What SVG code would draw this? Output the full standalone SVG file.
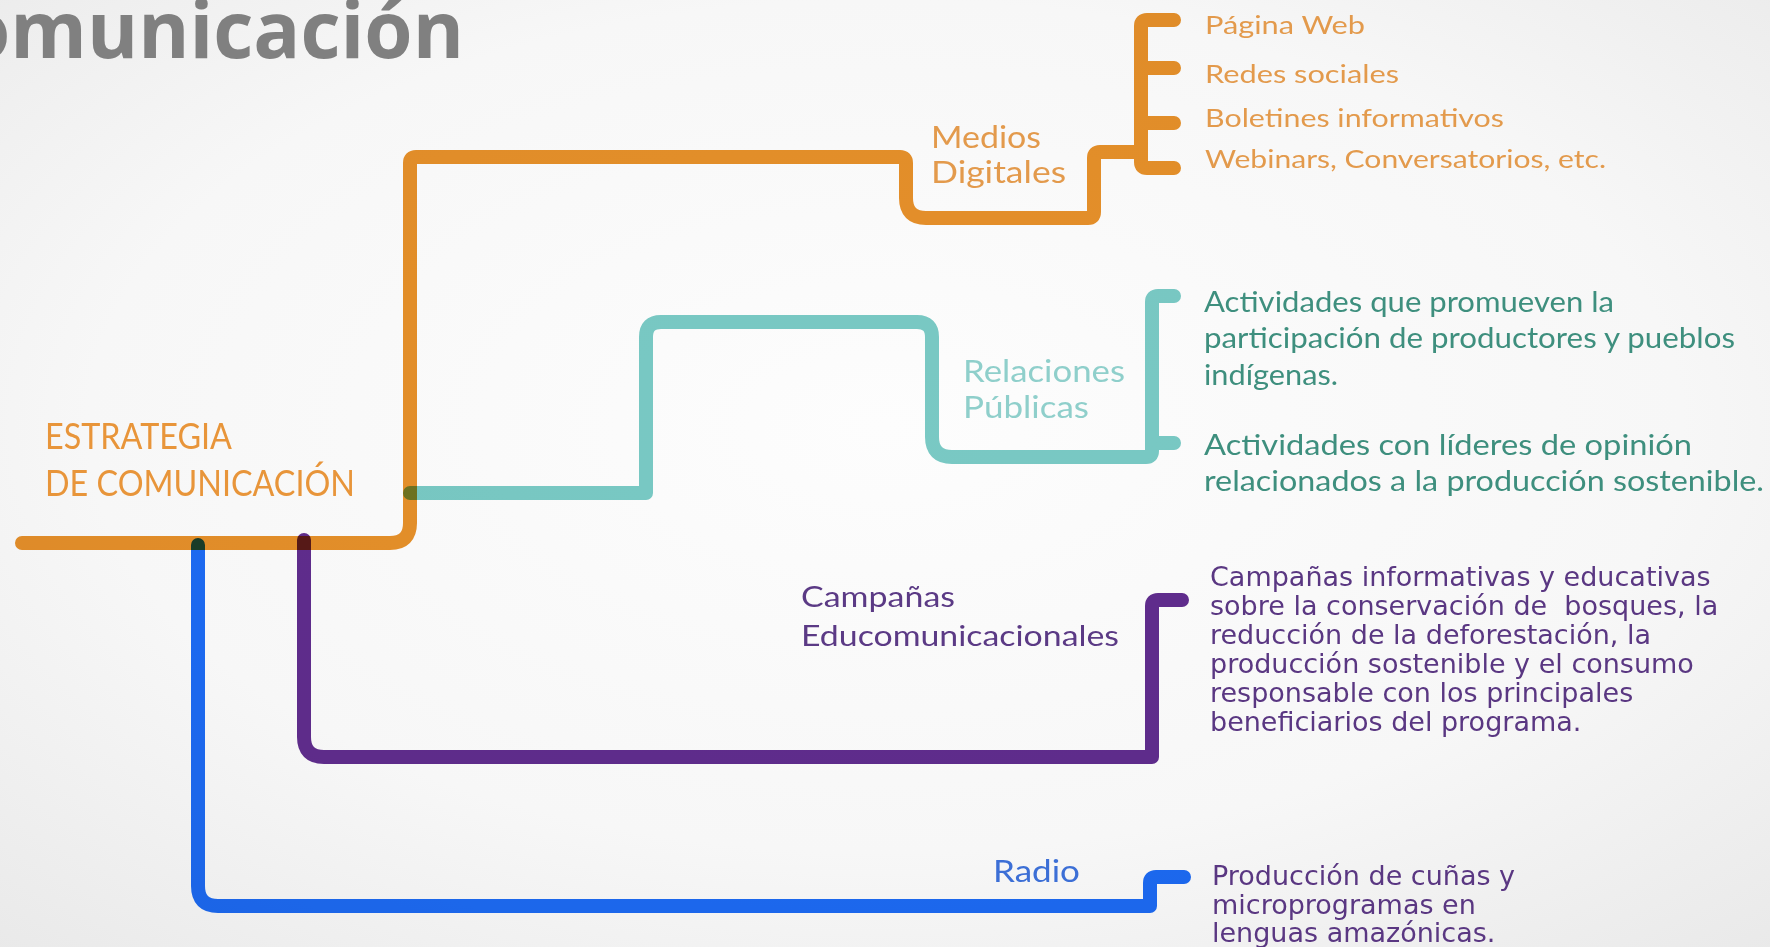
<svg xmlns="http://www.w3.org/2000/svg" width="1770" height="947" viewBox="0 0 1770 947">
<defs>
<radialGradient id="bg" cx="50%" cy="45%" r="75%">
<stop offset="0" stop-color="#fdfdfd"/>
<stop offset="0.6" stop-color="#f7f7f7"/>
<stop offset="1" stop-color="#e9e9e9"/>
</radialGradient>
</defs>
<style>
.ln{fill:none;stroke-width:14;stroke-linecap:round;stroke-linejoin:round;mix-blend-mode:multiply}
.or{stroke:#E8912A}.te{stroke:#7ACBC6}.pu{stroke:#612D8F}.bl{stroke:#1D6CF7}
.g{font-family:Lato,"Open Sans","Liberation Sans",sans-serif}
.h{font-family:"DejaVu Sans","Liberation Sans",sans-serif;font-size:27px;fill:#5A3782}
.to{fill:#E39A4C;font-size:25px}
.tt{fill:#3E8F7E;font-size:29px}
</style>
<rect width="1770" height="947" fill="url(#bg)"/>
<text x="-38" y="58" font-family="'Open Sans','Liberation Sans',sans-serif" font-weight="700" font-size="78" fill="#808080">omunicación</text>
<g id="connectors">
<path class="ln or" d="M22,543 H390 Q410,543 410,523 V163 Q410,157 416,157 H900 Q906,157 906,163 V198 Q906,218 926,218 H1088 Q1094,218 1094,212 V158 Q1094,152 1100,152 H1141 M1174,20 H1147 Q1141,20 1141,26 V162 Q1141,168 1147,168 H1174 M1141,68 H1174 M1141,123 H1174"/>
<path class="ln te" d="M410,493 H646 V337 Q646,322 661,322 H917 Q932,322 932,337 V437 Q932,457 952,457 H1146 Q1152,457 1152,451 V302 Q1152,296 1158,296 H1174 M1152,443 H1174"/>
<path class="ln pu" d="M304,540 V737 Q304,757 324,757 H1152 V606 Q1152,600 1158,600 H1182"/>
<path class="ln bl" d="M198,545 V886 Q198,906 218,906 H1150 V883 Q1150,877 1156,877 H1184"/>
</g>
<g id="estrategia" class="g" fill="#E8953A" font-size="37">
<text x="45" y="449" textLength="187" lengthAdjust="spacingAndGlyphs">ESTRATEGIA</text>
<text x="45" y="496" textLength="310" lengthAdjust="spacingAndGlyphs">DE COMUNICACIÓN</text>
</g>
<g id="medios" class="g" fill="#E39A4C" font-size="30">
<text x="931" y="148" textLength="110" lengthAdjust="spacingAndGlyphs">Medios</text>
<text x="931" y="183" textLength="135" lengthAdjust="spacingAndGlyphs">Digitales</text>
</g>
<g id="medios-items" class="g to">
<text x="1205" y="34" textLength="160" lengthAdjust="spacingAndGlyphs">Página Web</text>
<text x="1205" y="83" textLength="194" lengthAdjust="spacingAndGlyphs">Redes sociales</text>
<text x="1205" y="127" textLength="299" lengthAdjust="spacingAndGlyphs">Boletines informativos</text>
<text x="1205" y="168" textLength="401" lengthAdjust="spacingAndGlyphs">Webinars, Conversatorios, etc.</text>
</g>
<g id="relaciones" class="g" fill="#8FCFCB" font-size="30">
<text x="963" y="382" textLength="162" lengthAdjust="spacingAndGlyphs">Relaciones</text>
<text x="963" y="418" textLength="126" lengthAdjust="spacingAndGlyphs">Públicas</text>
</g>
<g id="relaciones-items" class="g tt">
<text x="1204" y="312" textLength="410" lengthAdjust="spacingAndGlyphs">Actividades que promueven la</text>
<text x="1204" y="348" textLength="531" lengthAdjust="spacingAndGlyphs">participación de productores y pueblos</text>
<text x="1204" y="385" textLength="134" lengthAdjust="spacingAndGlyphs">indígenas.</text>
<text x="1204" y="455" textLength="488" lengthAdjust="spacingAndGlyphs">Actividades con líderes de opinión</text>
<text x="1204" y="491" textLength="560" lengthAdjust="spacingAndGlyphs">relacionados a la producción sostenible.</text>
</g>
<g id="campanas" class="g" fill="#5B3A85" font-size="29">
<text x="801" y="607" textLength="154" lengthAdjust="spacingAndGlyphs">Campañas</text>
<text x="801" y="646" textLength="318" lengthAdjust="spacingAndGlyphs">Educomunicacionales</text>
</g>
<g id="campanas-items" class="h">
<text x="1210" y="586">Campañas informativas y educativas</text>
<text x="1210" y="615" xml:space="preserve">sobre la conservación de  bosques, la</text>
<text x="1210" y="644">reducción de la deforestación, la</text>
<text x="1210" y="673">producción sostenible y el consumo</text>
<text x="1210" y="702">responsable con los principales</text>
<text x="1210" y="731">beneficiarios del programa.</text>
</g>
<g id="radio" class="g" fill="#3C6FD6" font-size="31">
<text x="993" y="882" textLength="87" lengthAdjust="spacingAndGlyphs">Radio</text>
</g>
<g id="radio-items" class="h">
<text x="1212" y="885">Producción de cuñas y</text>
<text x="1212" y="914">microprogramas en</text>
<text x="1212" y="942">lenguas amazónicas.</text>
</g>
</svg>
